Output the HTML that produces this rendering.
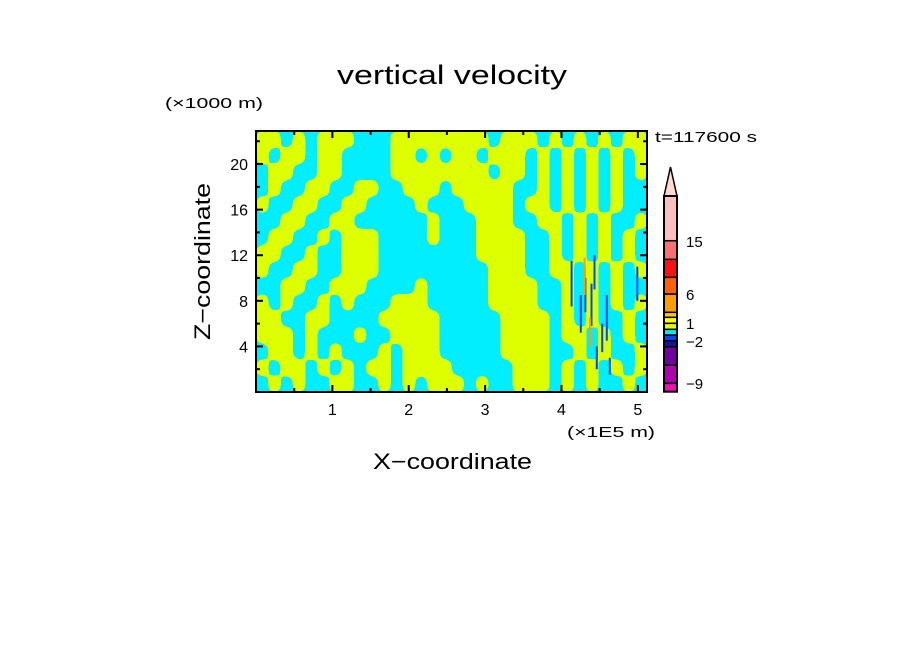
<!DOCTYPE html>
<html><head><meta charset="utf-8"><style>
html,body{margin:0;padding:0;background:#fff;}
svg{display:block;font-family:"Liberation Sans","DejaVu Sans",sans-serif;}
</style></head><body>
<svg id="chart" width="904" height="654" viewBox="0 0 904 654" xmlns="http://www.w3.org/2000/svg">
<defs>
<filter id="smooth" x="0" y="0" width="1" height="1">
<feGaussianBlur stdDeviation="4"/>
<feComponentTransfer><feFuncA type="discrete" tableValues="0 1"/></feComponentTransfer>
</filter>
<clipPath id="plotclip"><rect x="256" y="131" width="391" height="261"/></clipPath>
</defs>
<rect width="904" height="654" fill="#fff"/>
<text x="337" y="84" textLength="230" lengthAdjust="spacingAndGlyphs" font-size="27" fill="#000">vertical velocity</text>
<text x="165" y="108" textLength="98" lengthAdjust="spacingAndGlyphs" font-size="15" fill="#000">(×1000 m)</text>
<text x="567" y="437" textLength="88" lengthAdjust="spacingAndGlyphs" font-size="15" fill="#000">(×1E5 m)</text>
<text x="373" y="469" textLength="159" lengthAdjust="spacingAndGlyphs" font-size="22" fill="#000">X−coordinate</text>
<text transform="translate(210,340) rotate(-90)" textLength="157" lengthAdjust="spacingAndGlyphs" font-size="22" fill="#000">Z−coordinate</text>
<text x="655" y="142" textLength="102" lengthAdjust="spacingAndGlyphs" font-size="15" fill="#000">t=117600 s</text>
<g clip-path="url(#plotclip)"><g id="field"></g></g>
<g id="streaks"></g>
<g id="axes"></g>
<g id="cbar"></g>
</svg>
<script>
// field grid: 1 = weak updraft (yellow-green), 0 = weak downdraft (cyan); rows top (z=23) to bottom (z=0)
const fieldRows = [
"11010111000111111110111010101011",
"10110110000110101101110101010101",
"01100110000111111110110101010101",
"01001100110011101111100101010100",
"10011001100001000111101101010100",
"00110011000000100011100110101001",
"01100101110000100011110010101010",
"11001001110000000011110010101010",
"10011001110000000001110011010101",
"00110011100001000001111001010100",
"10100101000111000001111001010101",
"11001100001111100000111101010010",
"11101000100111100000111101101010",
"01101010001011100000111100101001",
"10110101011011110000011101010101",
"01010011001010111010011101010010"];
const xDomain = [0, 5.12];
const zDomain = [0, 22.9];
const xTicks = [1,2,3,4,5];
const zTicks = [4,8,12,16,20];
// extreme-value streaks: x (1E5 m), zLow, zHigh (km), level index
const streakX = [4.12, 4.24, 4.30, 4.38, 4.42, 4.45, 4.52, 4.58, 4.62, 4.98, 4.29, 4.36];
const streakZ0 = [7.5, 5.2, 7.0, 5.8, 9.0, 2.0, 3.5, 4.5, 1.5, 8.0, 8.5, 4.0];
const streakZ1 = [11.5, 8.5, 10.0, 9.5, 12.0, 4.0, 6.0, 8.5, 3.0, 11.0, 11.8, 6.5];
const streakLevel = [9, 9, 9, 9, 9, 9, 9, 9, 9, 9, 4, 4];
// colorbar levels (bottom to top)
const cbarColors = ["#f010b0","#b000b0","#7000a0","#1414a0","#0048ff","#00e8ff","#ddff00","#ffff00","#ffcc00","#ff9c00","#ff6000","#ff1010","#ff7070","#ffbfbf"];
const cbarBounds = [391.7,383.3,365,346.7,340.7,335,329.3,323.3,317.3,312.3,294,277.3,259.3,240.7,196];
const cbarLabels = ["−9","−2","1","6","15"];
const cbarLabelPos = [383,341,323,294,241];

const NS="http://www.w3.org/2000/svg";
const L=256,R=647,T=131,B=392;
const sx=v=>L+(v-xDomain[0])/(xDomain[1]-xDomain[0])*(R-L);
const sz=v=>B-(v-zDomain[0])/(zDomain[1]-zDomain[0])*(B-T);
function mk(tag,attrs,parent){const e=document.createElementNS(NS,tag);for(const k in attrs)e.setAttribute(k,attrs[k]);parent.appendChild(e);return e;}

const field=document.getElementById('field');
const nR=fieldRows.length,nC=fieldRows[0].length;
const cw=(R-L)/nC,ch=(B-T)/nR;
mk('rect',{x:L,y:T,width:R-L,height:B-T,fill:'#00eeff'},field);
const yg=mk('g',{filter:'url(#smooth)'},field);
mk('rect',{x:L-20,y:T-20,width:R-L+40,height:B-T+40,fill:'#ddff00','fill-opacity':0.004},yg);
for(let r=0;r<nR;r++){for(let c=0;c<nC;c++){
  if(fieldRows[r][c]==='1'){
    const e=mk('rect',{x:(L+c*cw).toFixed(2),y:(T+r*ch).toFixed(2),width:(cw+0.4).toFixed(2),height:(ch+0.4).toFixed(2),fill:'#ddff00'},yg);
    
    
  }
}}
const streaks=document.getElementById('streaks');
for(let i=0;i<streakX.length;i++){
  const e=mk('rect',{x:sx(streakX[i]).toFixed(1),y:sz(streakZ1[i]).toFixed(1),width:2,height:(sz(streakZ0[i])-sz(streakZ1[i])).toFixed(1),fill:cbarColors[streakLevel[i]===9?4:9]},streaks);
  
  
}
const axes=document.getElementById('axes');
mk('rect',{x:L,y:T,width:R-L,height:B-T,fill:'none',stroke:'#000','stroke-width':2},axes);
for(let v=0.5;v<xDomain[1];v+=0.5){
  const major=Math.abs(v-Math.round(v))<1e-6, len=major?7:4, x=sx(v);
  mk('line',{x1:x,y1:B,x2:x,y2:B-len,stroke:'#000','stroke-width':2},axes);
  mk('line',{x1:x,y1:T,x2:x,y2:T+len,stroke:'#000','stroke-width':2},axes);
}
for(let v=2;v<zDomain[1];v+=2){
  const major=v%4===0, len=major?7:4, y=sz(v);
  mk('line',{x1:L,y1:y,x2:L+len,y2:y,stroke:'#000','stroke-width':2},axes);
  mk('line',{x1:R,y1:y,x2:R-len,y2:y,stroke:'#000','stroke-width':2},axes);
}
xTicks.forEach(v=>{const t=mk('text',{x:sx(v),y:B+23,'text-anchor':'middle','font-size':16,fill:'#000'},axes);t.textContent=v;
  
  });
zTicks.forEach(v=>{const t=mk('text',{x:L-8,y:sz(v)+6,'text-anchor':'end','font-size':16,fill:'#000'},axes);t.textContent=v;
  
  });

const cbar=document.getElementById('cbar');
const cx0=664,cx1=677;
for(let i=0;i<cbarColors.length;i++){
  const e=mk('rect',{x:cx0,y:cbarBounds[i+1],width:cx1-cx0,height:cbarBounds[i]-cbarBounds[i+1],fill:cbarColors[i],stroke:'#000','stroke-width':1.5},cbar);
  
  
}
mk('polygon',{points:`${cx0},196 ${cx1},196 ${(cx0+cx1)/2},167`,fill:'#ffd8d0',stroke:'#000','stroke-width':1.5},cbar);
mk('rect',{x:cx0,y:196,width:cx1-cx0,height:391.7-196,fill:'none',stroke:'#000','stroke-width':2},cbar);
cbarLabels.forEach((s,i)=>{const t=mk('text',{x:686,y:cbarLabelPos[i]+6,'font-size':15,fill:'#000'},cbar);t.textContent=s;
  
  });
</script>
</body></html>
